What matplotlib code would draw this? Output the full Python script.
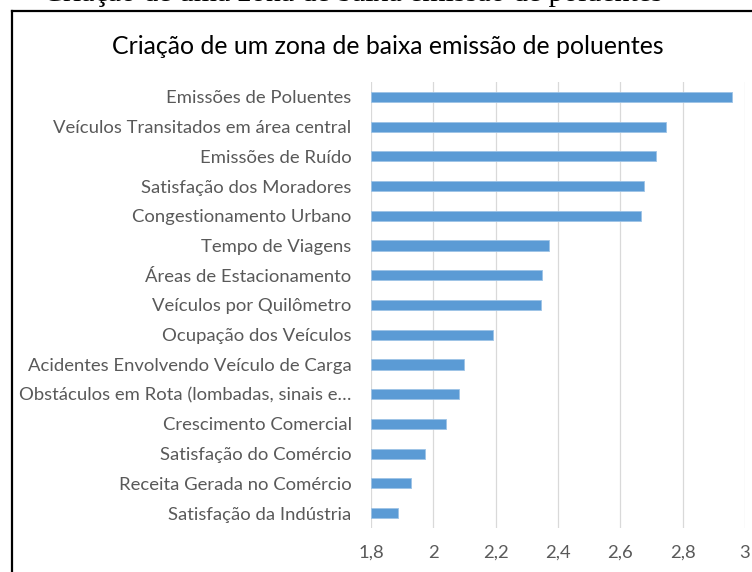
import matplotlib
matplotlib.use("Agg")
import matplotlib.pyplot as plt
from matplotlib.lines import Line2D

# data (top to bottom)
categorias = [
    "Emissões de Poluentes",
    "Veículos Transitados em área central",
    "Emissões de Ruído",
    "Satisfação dos Moradores",
    "Congestionamento Urbano",
    "Tempo de Viagens",
    "Áreas de Estacionamento",
    "Veículos por Quilômetro",
    "Ocupação dos Veículos",
    "Acidentes Envolvendo Veículo de Carga",
    "Obstáculos em Rota (lombadas, sinais e…",
    "Crescimento Comercial",
    "Satisfação do Comércio",
    "Receita Gerada no Comércio",
    "Satisfação da Indústria",
]
valores = [2.957, 2.745, 2.713, 2.676, 2.665, 2.371, 2.350, 2.346,
           2.190, 2.097, 2.083, 2.042, 1.972, 1.927, 1.886]
ticks = [1.8, 2.0, 2.2, 2.4, 2.6, 2.8, 3.0]
tick_labels = ["1,8", "2", "2,2", "2,4", "2,6", "2,8", "3"]

plt.rcParams['font.family'] = ['Lato', 'DejaVu Sans']
W, H = 752, 572
fig = plt.figure(figsize=(W / 100, H / 100), dpi=100)

# cut-off document caption above the chart frame
fig.text(663 / W, 1 - 1 / H, "Criação de uma zona de baixa emissão de poluentes",
         ha='right', va='baseline', fontsize=21.5, family='Liberation Serif',
         color='black')

# chart frame (only left and top edges are visible)
fig.add_artist(Line2D([12 / W, 12 / W], [0, 1 - 11 / H], transform=fig.transFigure,
                      color='black', lw=1.6))
fig.add_artist(Line2D([12 / W, 1], [1 - 11 / H, 1 - 11 / H], transform=fig.transFigure,
                      color='black', lw=1.6))

ax = fig.add_axes([371 / W, 1 - 528 / H, (745 - 371) / W, (528 - 82) / H])
y = list(range(len(categorias)))
ax.barh(y, [v - 1.8 for v in valores], left=1.8, height=0.34,
        color='#5B9BD5', edgecolor='#9DC3E6', linewidth=0.6, zorder=3)

ax.set_xlim(1.8, 3.0)
ax.set_ylim(len(categorias) - 0.5, -0.5)
ax.set_xticks(ticks)
ax.set_xticklabels(tick_labels)
ax.set_yticks(y)
ax.set_yticklabels(categorias)
ax.tick_params(axis='both', length=0, labelsize=13.3, colors='#595959')
ax.tick_params(axis='x', pad=12)
ax.tick_params(axis='y', pad=14)
ax.grid(axis='x', color='#D9D9D9', lw=0.9)
ax.set_axisbelow(True)
for s in ax.spines.values():
    s.set_visible(False)

fig.text(388 / W, 1 - 47 / H, "Criação de um zona de baixa emissão de poluentes",
         ha='center', va='center', fontsize=17.9, color='black')

fig.savefig("out.png", dpi=100)
